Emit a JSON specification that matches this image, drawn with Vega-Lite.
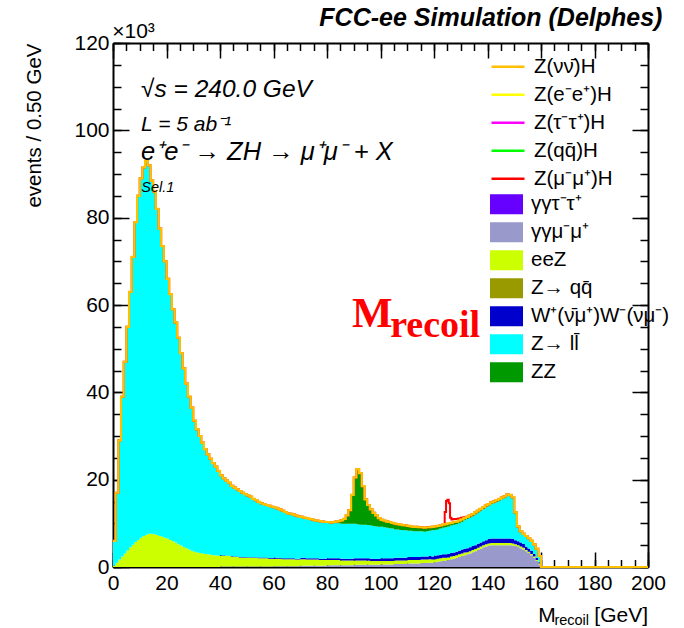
{
 "$schema": "https://vega.github.io/schema/vega-lite/v6.json",
 "width": 535, "height": 524,
 "autosize": {"type": "none"},
 "padding": {"left": 113, "top": 43, "right": 36, "bottom": 61},
 "background": "white",
 "config": {
  "view": {"stroke": null},
  "axis": {"labelFont": "Liberation Sans", "labelFontSize": 21, "labelColor": "#000", "tickColor": "#000", "domainColor": "#000", "grid": false, "zindex": 1, "tickWidth": 1.5, "domainWidth": 2}
 },
 "datasets": {"h": [
{"x":0,"p2":0,"p3":0.3,"p5":0,"p6":5.7,"p7":0,"s":0},
{"x":1,"p2":0,"p3":1.0,"p5":0,"p6":16.0,"p7":0,"s":0},
{"x":2,"p2":0,"p3":1.7,"p5":0,"p6":27.3,"p7":0,"s":0},
{"x":3,"p2":0,"p3":2.4,"p5":0,"p6":36.6,"p7":0,"s":0},
{"x":4,"p2":0,"p3":3.1,"p5":0,"p6":43.9,"p7":0,"s":0},
{"x":5,"p2":0,"p3":3.8,"p5":0,"p6":51.2,"p7":0,"s":0},
{"x":6,"p2":0,"p3":4.5,"p5":0,"p6":58.5,"p7":0,"s":0},
{"x":7,"p2":0,"p3":5.1,"p5":0,"p6":65.9,"p7":0,"s":0},
{"x":8,"p2":0,"p3":5.7,"p5":0,"p6":73.3,"p7":0,"s":0},
{"x":9,"p2":0,"p3":6.2,"p5":0,"p6":78.8,"p7":0,"s":0},
{"x":10,"p2":0,"p3":6.7,"p5":0,"p6":82.3,"p7":0,"s":0},
{"x":11,"p2":0,"p3":7.1,"p5":0,"p6":84.4,"p7":0,"s":0},
{"x":12,"p2":0,"p3":7.4,"p5":0,"p6":85.6,"p7":0,"s":0},
{"x":13,"p2":0,"p3":7.6,"p5":0,"p6":84.4,"p7":0,"s":0},
{"x":14,"p2":0,"p3":7.6,"p5":0,"p6":80.9,"p7":0,"s":0},
{"x":15,"p2":0,"p3":7.5,"p5":0,"p6":78.5,"p7":0,"s":0},
{"x":16,"p2":0,"p3":7.3,"p5":0,"p6":74.7,"p7":0,"s":0},
{"x":17,"p2":0,"p3":7.1,"p5":0,"p6":70.4,"p7":0,"s":0},
{"x":18,"p2":0,"p3":6.9,"p5":0,"p6":66.6,"p7":0,"s":0},
{"x":19,"p2":0,"p3":6.7,"p5":0,"p6":63.3,"p7":0,"s":0},
{"x":20,"p2":0,"p3":6.5,"p5":0,"p6":59.5,"p7":0,"s":0},
{"x":21,"p2":0,"p3":6.2,"p5":0,"p6":56.3,"p7":0,"s":0},
{"x":22,"p2":0,"p3":5.9,"p5":0,"p6":53.1,"p7":0,"s":0},
{"x":23,"p2":0,"p3":5.6,"p5":0,"p6":50.4,"p7":0,"s":0},
{"x":24,"p2":0,"p3":5.2,"p5":0,"p6":47.3,"p7":0,"s":0},
{"x":25,"p2":0,"p3":4.9,"p5":0,"p6":44.1,"p7":0,"s":0},
{"x":26,"p2":0,"p3":4.6,"p5":0,"p6":40.9,"p7":0,"s":0},
{"x":27,"p2":0,"p3":4.3,"p5":0,"p6":37.7,"p7":0,"s":0},
{"x":28,"p2":0,"p3":4.0,"p5":0,"p6":35.0,"p7":0,"s":0},
{"x":29,"p2":0,"p3":3.7,"p5":0,"p6":32.8,"p7":0,"s":0},
{"x":30,"p2":0,"p3":3.5,"p5":0,"p6":30.0,"p7":0,"s":0},
{"x":31,"p2":0,"p3":3.3,"p5":0,"p6":28.2,"p7":0,"s":0},
{"x":32,"p2":0,"p3":3.2,"p5":0,"p6":26.8,"p7":0,"s":0},
{"x":33,"p2":0,"p3":3.1,"p5":0,"p6":25.4,"p7":0,"s":0},
{"x":34,"p2":0,"p3":3.0,"p5":0,"p6":24.0,"p7":0,"s":0},
{"x":35,"p2":0,"p3":2.9,"p5":0,"p6":22.9,"p7":0,"s":0},
{"x":36,"p2":0,"p3":2.8,"p5":0,"p6":22.0,"p7":0,"s":0},
{"x":37,"p2":0,"p3":2.7,"p5":0,"p6":21.1,"p7":0,"s":0},
{"x":38,"p2":0,"p3":2.7,"p5":0,"p6":20.3,"p7":0,"s":0},
{"x":39,"p2":0,"p3":2.6,"p5":0,"p6":19.4,"p7":0,"s":0},
{"x":40,"p2":0.1,"p3":2.5,"p5":0.1,"p6":18.3,"p7":0,"s":0},
{"x":41,"p2":0.1,"p3":2.5,"p5":0.1,"p6":17.6,"p7":0,"s":0},
{"x":42,"p2":0.1,"p3":2.4,"p5":0.1,"p6":17.2,"p7":0,"s":0},
{"x":43,"p2":0.1,"p3":2.4,"p5":0.1,"p6":16.7,"p7":0,"s":0},
{"x":44,"p2":0.1,"p3":2.3,"p5":0.1,"p6":16.1,"p7":0,"s":0},
{"x":45,"p2":0.1,"p3":2.2,"p5":0.1,"p6":15.8,"p7":0,"s":0},
{"x":46,"p2":0.1,"p3":2.2,"p5":0.1,"p6":15.4,"p7":0,"s":0},
{"x":47,"p2":0.1,"p3":2.1,"p5":0.1,"p6":15.1,"p7":0,"s":0},
{"x":48,"p2":0.1,"p3":2.1,"p5":0.1,"p6":14.7,"p7":0,"s":0},
{"x":49,"p2":0.1,"p3":2.1,"p5":0.1,"p6":14.4,"p7":0,"s":0},
{"x":50,"p2":0.1,"p3":2.0,"p5":0.15,"p6":14.15,"p7":0,"s":0},
{"x":51,"p2":0.1,"p3":2.0,"p5":0.15,"p6":13.85,"p7":0,"s":0},
{"x":52,"p2":0.1,"p3":2.0,"p5":0.15,"p6":13.35,"p7":0,"s":0},
{"x":53,"p2":0.1,"p3":2.0,"p5":0.15,"p6":13.05,"p7":0,"s":0},
{"x":54,"p2":0.1,"p3":1.9,"p5":0.15,"p6":12.75,"p7":0,"s":0},
{"x":55,"p2":0.1,"p3":1.9,"p5":0.15,"p6":12.45,"p7":0,"s":0},
{"x":56,"p2":0.1,"p3":1.9,"p5":0.15,"p6":12.25,"p7":0,"s":0},
{"x":57,"p2":0.1,"p3":1.9,"p5":0.15,"p6":12.05,"p7":0,"s":0},
{"x":58,"p2":0.1,"p3":1.8,"p5":0.15,"p6":11.95,"p7":0,"s":0},
{"x":59,"p2":0.1,"p3":1.8,"p5":0.15,"p6":11.75,"p7":0,"s":0},
{"x":60,"p2":0.2,"p3":1.7,"p5":0.2,"p6":11.6,"p7":0,"s":0},
{"x":61,"p2":0.2,"p3":1.7,"p5":0.2,"p6":11.3,"p7":0,"s":0},
{"x":62,"p2":0.2,"p3":1.7,"p5":0.2,"p6":11.1,"p7":0,"s":0},
{"x":63,"p2":0.2,"p3":1.6,"p5":0.2,"p6":10.9,"p7":0,"s":0},
{"x":64,"p2":0.2,"p3":1.6,"p5":0.2,"p6":10.6,"p7":0,"s":0},
{"x":65,"p2":0.2,"p3":1.6,"p5":0.2,"p6":10.3,"p7":0,"s":0},
{"x":66,"p2":0.2,"p3":1.6,"p5":0.2,"p6":10.2,"p7":0,"s":0},
{"x":67,"p2":0.2,"p3":1.6,"p5":0.2,"p6":10.0,"p7":0,"s":0},
{"x":68,"p2":0.2,"p3":1.5,"p5":0.2,"p6":9.9,"p7":0,"s":0},
{"x":69,"p2":0.2,"p3":1.5,"p5":0.2,"p6":9.7,"p7":0,"s":0},
{"x":70,"p2":0.3,"p3":1.5,"p5":0.3,"p6":9.4,"p7":0,"s":0},
{"x":71,"p2":0.3,"p3":1.5,"p5":0.3,"p6":9.2,"p7":0,"s":0},
{"x":72,"p2":0.3,"p3":1.4,"p5":0.3,"p6":9.2,"p7":0,"s":0},
{"x":73,"p2":0.3,"p3":1.4,"p5":0.3,"p6":9.0,"p7":0,"s":0},
{"x":74,"p2":0.3,"p3":1.4,"p5":0.3,"p6":8.9,"p7":0,"s":0},
{"x":75,"p2":0.3,"p3":1.4,"p5":0.3,"p6":8.7,"p7":0,"s":0},
{"x":76,"p2":0.3,"p3":1.4,"p5":0.3,"p6":8.6,"p7":0,"s":0},
{"x":77,"p2":0.3,"p3":1.3,"p5":0.3,"p6":8.6,"p7":0,"s":0},
{"x":78,"p2":0.3,"p3":1.3,"p5":0.3,"p6":8.5,"p7":0,"s":0},
{"x":79,"p2":0.3,"p3":1.3,"p5":0.3,"p6":8.4,"p7":0,"s":0},
{"x":80,"p2":0.4,"p3":1.2,"p5":0.4,"p6":8.1,"p7":0.2,"s":0},
{"x":81,"p2":0.4,"p3":1.2,"p5":0.4,"p6":8.0,"p7":0.2,"s":0},
{"x":82,"p2":0.4,"p3":1.2,"p5":0.4,"p6":8.0,"p7":0.3,"s":0},
{"x":83,"p2":0.4,"p3":1.2,"p5":0.4,"p6":8.0,"p7":0.4,"s":0},
{"x":84,"p2":0.4,"p3":1.2,"p5":0.4,"p6":8.0,"p7":0.5,"s":0},
{"x":85,"p2":0.4,"p3":1.1,"p5":0.4,"p6":8.0,"p7":0.8,"s":0},
{"x":86,"p2":0.4,"p3":1.1,"p5":0.4,"p6":8.0,"p7":1.1,"s":0},
{"x":87,"p2":0.4,"p3":1.1,"p5":0.4,"p6":8.0,"p7":1.9,"s":0},
{"x":88,"p2":0.4,"p3":1.1,"p5":0.4,"p6":8.0,"p7":3.1,"s":0},
{"x":89,"p2":0.4,"p3":1.1,"p5":0.4,"p6":8.0,"p7":6.6,"s":0},
{"x":90,"p2":0.5,"p3":1.0,"p5":0.5,"p6":7.9,"p7":10.6,"s":0},
{"x":91,"p2":0.5,"p3":1.0,"p5":0.5,"p6":7.8,"p7":12.6,"s":0},
{"x":92,"p2":0.5,"p3":1.0,"p5":0.5,"p6":7.7,"p7":11.8,"s":0},
{"x":93,"p2":0.5,"p3":1.0,"p5":0.5,"p6":7.7,"p7":8.8,"s":0},
{"x":94,"p2":0.5,"p3":1.0,"p5":0.5,"p6":7.7,"p7":5.8,"s":0},
{"x":95,"p2":0.5,"p3":1.0,"p5":0.5,"p6":7.6,"p7":4.6,"s":0},
{"x":96,"p2":0.5,"p3":0.9,"p5":0.5,"p6":7.6,"p7":3.7,"s":0},
{"x":97,"p2":0.5,"p3":0.9,"p5":0.5,"p6":7.5,"p7":3.0,"s":0},
{"x":98,"p2":0.5,"p3":0.9,"p5":0.5,"p6":7.4,"p7":2.5,"s":0},
{"x":99,"p2":0.5,"p3":0.9,"p5":0.5,"p6":7.3,"p7":2.0,"s":0},
{"x":100,"p2":0.6,"p3":0.8,"p5":0.6,"p6":7.2,"p7":1.6,"s":0},
{"x":101,"p2":0.6,"p3":0.8,"p5":0.6,"p6":7.1,"p7":1.5,"s":0},
{"x":102,"p2":0.6,"p3":0.8,"p5":0.6,"p6":7.0,"p7":1.4,"s":0},
{"x":103,"p2":0.6,"p3":0.8,"p5":0.6,"p6":6.9,"p7":1.4,"s":0},
{"x":104,"p2":0.6,"p3":0.8,"p5":0.6,"p6":6.8,"p7":1.3,"s":0},
{"x":105,"p2":0.7,"p3":0.8,"p5":0.6,"p6":6.5,"p7":1.3,"s":0},
{"x":106,"p2":0.7,"p3":0.8,"p5":0.6,"p6":6.5,"p7":1.2,"s":0},
{"x":107,"p2":0.7,"p3":0.8,"p5":0.6,"p6":6.4,"p7":1.2,"s":0},
{"x":108,"p2":0.7,"p3":0.8,"p5":0.6,"p6":6.3,"p7":1.2,"s":0},
{"x":109,"p2":0.7,"p3":0.8,"p5":0.6,"p6":6.3,"p7":1.1,"s":0},
{"x":110,"p2":0.8,"p3":0.8,"p5":0.7,"p6":6.0,"p7":1.1,"s":0},
{"x":111,"p2":0.8,"p3":0.8,"p5":0.7,"p6":6.0,"p7":1.0,"s":0},
{"x":112,"p2":0.8,"p3":0.8,"p5":0.7,"p6":5.9,"p7":1.0,"s":0},
{"x":113,"p2":0.8,"p3":0.8,"p5":0.7,"p6":5.9,"p7":1.0,"s":0},
{"x":114,"p2":0.8,"p3":0.8,"p5":0.7,"p6":5.9,"p7":0.9,"s":0},
{"x":115,"p2":0.9,"p3":0.8,"p5":0.7,"p6":5.8,"p7":0.9,"s":0},
{"x":116,"p2":0.9,"p3":0.8,"p5":0.7,"p6":5.7,"p7":0.9,"s":0},
{"x":117,"p2":0.9,"p3":0.8,"p5":0.7,"p6":5.8,"p7":0.9,"s":0},
{"x":118,"p2":1.0,"p3":0.8,"p5":0.7,"p6":5.8,"p7":0.8,"s":0},
{"x":119,"p2":1.0,"p3":0.7,"p5":0.7,"p6":6.0,"p7":0.8,"s":0},
{"x":120,"p2":1.1,"p3":0.7,"p5":0.8,"p6":5.9,"p7":0.8,"s":0},
{"x":121,"p2":1.2,"p3":0.7,"p5":0.8,"p6":5.9,"p7":0.8,"s":0},
{"x":122,"p2":1.3,"p3":0.7,"p5":0.8,"p6":6.0,"p7":0.7,"s":0},
{"x":123,"p2":1.4,"p3":0.7,"p5":0.8,"p6":6.1,"p7":0.7,"s":0},
{"x":124,"p2":1.5,"p3":0.6,"p5":0.8,"p6":6.2,"p7":0.7,"s":2.8},
{"x":124.5,"p2":1.5,"p3":0.6,"p5":0.8,"p6":6.2,"p7":0.7,"s":5.3},
{"x":125,"p2":1.6,"p3":0.6,"p5":0.8,"p6":6.3,"p7":0.7,"s":5.4},
{"x":125.5,"p2":1.6,"p3":0.6,"p5":0.8,"p6":6.3,"p7":0.7,"s":4.6},
{"x":126,"p2":1.8,"p3":0.6,"p5":0.8,"p6":6.3,"p7":0.6,"s":1.2},
{"x":126.5,"p2":1.8,"p3":0.6,"p5":0.8,"p6":6.3,"p7":0.6,"s":0.8},
{"x":127,"p2":1.9,"p3":0.6,"p5":0.8,"p6":6.4,"p7":0.6,"s":0.7},
{"x":128,"p2":2.1,"p3":0.6,"p5":0.8,"p6":6.3,"p7":0.6,"s":0.6},
{"x":129,"p2":2.3,"p3":0.6,"p5":0.8,"p6":6.3,"p7":0.6,"s":0.5},
{"x":130,"p2":2.5,"p3":0.6,"p5":0.9,"p6":6.3,"p7":0.6,"s":0.4},
{"x":131,"p2":2.7,"p3":0.6,"p5":0.9,"p6":6.5,"p7":0.5,"s":0.2},
{"x":132,"p2":2.9,"p3":0.5,"p5":0.9,"p6":6.7,"p7":0.5,"s":0},
{"x":133,"p2":3.1,"p3":0.5,"p5":0.9,"p6":6.8,"p7":0.5,"s":0},
{"x":134,"p2":3.4,"p3":0.5,"p5":0.9,"p6":6.8,"p7":0.5,"s":0},
{"x":135,"p2":3.6,"p3":0.5,"p5":0.9,"p6":7.0,"p7":0.5,"s":0},
{"x":136,"p2":3.9,"p3":0.5,"p5":0.9,"p6":7.1,"p7":0.5,"s":0},
{"x":137,"p2":4.2,"p3":0.5,"p5":0.9,"p6":7.3,"p7":0.4,"s":0},
{"x":138,"p2":4.5,"p3":0.5,"p5":0.9,"p6":7.4,"p7":0.4,"s":0},
{"x":139,"p2":4.7,"p3":0.5,"p5":0.9,"p6":7.6,"p7":0.4,"s":0},
{"x":140,"p2":4.9,"p3":0.5,"p5":1.0,"p6":7.6,"p7":0.4,"s":0},
{"x":141,"p2":5.0,"p3":0.5,"p5":1.0,"p6":7.9,"p7":0.4,"s":0},
{"x":142,"p2":5.0,"p3":0.5,"p5":1.0,"p6":8.1,"p7":0.4,"s":0},
{"x":143,"p2":5.0,"p3":0.5,"p5":1.0,"p6":8.4,"p7":0.4,"s":0},
{"x":144,"p2":5.0,"p3":0.5,"p5":1.0,"p6":8.7,"p7":0.4,"s":0},
{"x":145,"p2":5.0,"p3":0.5,"p5":1.0,"p6":9.0,"p7":0.4,"s":0},
{"x":146,"p2":5.0,"p3":0.5,"p5":1.0,"p6":9.4,"p7":0.3,"s":0},
{"x":147,"p2":5.0,"p3":0.5,"p5":1.0,"p6":9.8,"p7":0.3,"s":0},
{"x":148,"p2":5.0,"p3":0.5,"p5":1.0,"p6":9.7,"p7":0.3,"s":0},
{"x":149,"p2":4.9,"p3":0.5,"p5":1.0,"p6":9.3,"p7":0.3,"s":0},
{"x":150,"p2":4.8,"p3":0.4,"p5":0.95,"p6":6.15,"p7":0.2,"s":0},
{"x":151,"p2":4.6,"p3":0.4,"p5":0.9,"p6":3.2,"p7":0.2,"s":0},
{"x":152,"p2":4.3,"p3":0.4,"p5":0.9,"p6":2.4,"p7":0.2,"s":0},
{"x":153,"p2":4.0,"p3":0.4,"p5":0.85,"p6":2.25,"p7":0.1,"s":0},
{"x":154,"p2":3.6,"p3":0.3,"p5":0.8,"p6":2.3,"p7":0.1,"s":0},
{"x":155,"p2":3.2,"p3":0.3,"p5":0.75,"p6":2.25,"p7":0.1,"s":0},
{"x":156,"p2":2.7,"p3":0.3,"p5":0.7,"p6":2.2,"p7":0.1,"s":0},
{"x":157,"p2":2.1,"p3":0.3,"p5":0.6,"p6":2.1,"p7":0.1,"s":0},
{"x":158,"p2":1.4,"p3":0.2,"p5":0.5,"p6":2.1,"p7":0,"s":0},
{"x":159,"p2":0.6,"p3":0.2,"p5":0.3,"p6":1.4,"p7":0,"s":0},
{"x":160,"p2":0,"p3":0,"p5":0,"p6":0,"p7":0,"s":0},
{"x":200,"p2":0,"p3":0,"p5":0,"p6":0,"p7":0,"s":0}
 ]},
 "resolve": {"axis": {"x": "independent", "y": "independent"}},
 "layer": [
  {
   "data": {"name": "h"},
   "transform": [
    {"fold": ["p2","p3","p5","p6","p7","s"], "as": ["k","n"]},
    {"stack": "n", "groupby": ["x"], "sort": [{"field": "k", "order": "ascending"}], "as": ["y0","y1"]},
    {"filter": "datum.k != 's'"}
   ],
   "mark": {"type": "area", "interpolate": "step-after"},
   "encoding": {
    "x": {"field": "x", "type": "quantitative", "scale": {"domain": [0,200], "nice": false},
          "axis": {"orient": "bottom", "values": [0,20,40,60,80,100,120,140,160,180,200], "ticks": false, "domain": false, "labelPadding": 5, "labelFlush": false, "labelOverlap": false, "title": null}},
    "y": {"field": "y1", "type": "quantitative", "scale": {"domain": [0,120], "nice": false},
          "axis": {"orient": "left", "values": [0,20,40,60,80,100,120], "ticks": false, "domain": false, "labelPadding": 4, "labelFlush": false, "labelOverlap": false,
                   "title": "events / 0.50 GeV", "titleAnchor": "end", "titleFont": "Liberation Sans", "titleFontSize": 20.5, "titleFontWeight": "normal", "titleColor": "#000", "titlePadding": 29}},
    "y2": {"field": "y0"},
    "fill": {"field": "k", "type": "nominal",
             "scale": {"domain": ["p1","p2","p3","p4","p5","p6","p7"], "range": ["#6600ff","#9999cc","#ccff00","#999900","#0000cc","#00ffff","#009900"]},
             "legend": {"orient": "none", "legendX": 377, "legendY": 147.5, "direction": "vertical", "title": null, "padding": 0,
                        "symbolType": "M-1,-0.6H1V0.6H-1Z", "symbolSize": 1089, "symbolStrokeWidth": 0, "symbolOpacity": 1,
                        "labelFont": "Liberation Sans", "labelFontSize": 20.5, "labelColor": "#000", "labelOffset": 8, "labelLimit": 300,
                        "clipHeight": 27.5, "rowPadding": 0,
                        "labelExpr": "{'p1':'\u03b3\u03b3\u03c4\u207b\u03c4\u207a','p2':'\u03b3\u03b3\u03bc\u207b\u03bc\u207a','p3':'eeZ','p4':'Z\u2192 qq\u0304','p5':'W\u207a(\u03bd\u0304\u03bc\u207a)W\u207b(\u03bd\u03bc\u207b)','p6':'Z\u2192 ll\u0304','p7':'ZZ'}[datum.label]"}}
   }
  },
  {
   "data": {"name": "h"},
   "transform": [
    {"fold": ["p2","p3","p5","p6","p7","s"], "as": ["k","n"]},
    {"stack": "n", "groupby": ["x"], "sort": [{"field": "k", "order": "ascending"}], "as": ["y0","y1"]},
    {"filter": "datum.k == 's'"}
   ],
   "mark": {"type": "line", "interpolate": "step-after", "strokeWidth": 2},
   "encoding": {
    "x": {"field": "x", "type": "quantitative", "scale": {"domain": [0,200], "nice": false},
          "axis": {"orient": "bottom", "values": [0,20,40,60,80,100,120,140,160,180,200], "tickSize": -15, "labels": false, "domain": true, "title": null}},
    "y": {"field": "y1", "type": "quantitative", "scale": {"domain": [0,120], "nice": false},
          "axis": {"orient": "left", "values": [0,20,40,60,80,100,120], "tickSize": -16, "labels": false, "domain": true, "title": null}},
    "stroke": {"datum": "Z(\u03bc\u207b\u03bc\u207a)H",
               "scale": {"domain": ["Z(\u03bd\u03bd\u0304)H","Z(e\u207be\u207a)H","Z(\u03c4\u207b\u03c4\u207a)H","Z(qq\u0304)H","Z(\u03bc\u207b\u03bc\u207a)H"], "range": ["#ffc000","#ffff00","#ff00ff","#00ff00","#ff0000"]},
               "legend": {"orient": "none", "legendX": 377, "legendY": 10, "direction": "vertical", "title": null, "padding": 0,
                          "symbolType": "stroke", "symbolSize": 1089, "symbolStrokeWidth": 2.5,
                          "labelFont": "Liberation Sans", "labelFontSize": 20.5, "labelColor": "#000", "labelOffset": 8, "labelLimit": 300,
                          "clipHeight": 27.5, "rowPadding": 0}}
   }
  },
  {
   "data": {"name": "h"},
   "transform": [
    {"fold": ["p2","p3","p5","p6","p7","s"], "as": ["k","n"]},
    {"stack": "n", "groupby": ["x"], "sort": [{"field": "k", "order": "ascending"}], "as": ["y0","y1"]},
    {"filter": "datum.k == 'p7'"}
   ],
   "mark": {"type": "line", "interpolate": "step-after", "strokeWidth": 2.2},
   "encoding": {
    "x": {"field": "x", "type": "quantitative", "scale": {"domain": [0,200], "nice": false},
          "axis": {"orient": "bottom", "values": [0,5,10,15,20,25,30,35,40,45,50,55,60,65,70,75,80,85,90,95,100,105,110,115,120,125,130,135,140,145,150,155,160,165,170,175,180,185,190,195,200], "tickSize": -7.5, "labels": false, "domain": false, "title": null}},
    "y": {"field": "y1", "type": "quantitative", "scale": {"domain": [0,120], "nice": false},
          "axis": {"orient": "left", "values": [0,5,10,15,20,25,30,35,40,45,50,55,60,65,70,75,80,85,90,95,100,105,110,115,120], "tickSize": -8, "labels": false, "domain": false, "title": null}},
    "stroke": {"datum": "Z(\u03bd\u03bd\u0304)H",
               "scale": {"domain": ["Z(\u03bd\u03bd\u0304)H","Z(e\u207be\u207a)H","Z(\u03c4\u207b\u03c4\u207a)H","Z(qq\u0304)H","Z(\u03bc\u207b\u03bc\u207a)H"], "range": ["#ffc000","#ffff00","#ff00ff","#00ff00","#ff0000"]}}
   }
  },
  {
   "data": {"values": [{}]},
   "mark": {"type": "text", "text": "FCC-ee Simulation (Delphes)", "font": "Liberation Sans", "fontSize": 25, "fontWeight": "bold", "fontStyle": "italic", "align": "right", "baseline": "alphabetic", "color": "#000"},
   "encoding": {
    "x": {"datum": 205.4, "type": "quantitative", "scale": {"domain": [0,200], "nice": false},
          "axis": {"orient": "top", "values": [0,20,40,60,80,100,120,140,160,180,200], "tickSize": -15, "labels": false, "domain": true, "title": null}},
    "y": {"datum": 123.9, "type": "quantitative", "scale": {"domain": [0,120], "nice": false},
          "axis": {"orient": "right", "values": [0,20,40,60,80,100,120], "tickSize": -16, "labels": false, "domain": true, "title": null}}
   }
  },
  {
   "data": {"values": [{}]},
   "mark": {"type": "text", "text": "\u00d710\u00b3", "font": "Liberation Sans", "fontSize": 21, "align": "left", "baseline": "alphabetic", "color": "#000"},
   "encoding": {
    "x": {"datum": -0.3, "type": "quantitative", "scale": {"domain": [0,200], "nice": false},
          "axis": {"orient": "top", "values": [0,5,10,15,20,25,30,35,40,45,50,55,60,65,70,75,80,85,90,95,100,105,110,115,120,125,130,135,140,145,150,155,160,165,170,175,180,185,190,195,200], "tickSize": -7.5, "labels": false, "domain": false, "title": null}},
    "y": {"datum": 121.2, "type": "quantitative", "scale": {"domain": [0,120], "nice": false},
          "axis": {"orient": "right", "values": [0,5,10,15,20,25,30,35,40,45,50,55,60,65,70,75,80,85,90,95,100,105,110,115,120], "tickSize": -8, "labels": false, "domain": false, "title": null}}
   }
  },
  {
   "data": {"values": [{}]},
   "mark": {"type": "text", "text": "\u221as = 240.0 GeV", "font": "Liberation Sans", "fontSize": 24.5, "fontStyle": "italic", "align": "left", "baseline": "alphabetic", "color": "#000"},
   "encoding": {"x": {"datum": 10.5, "type": "quantitative", "scale": {"domain": [0,200], "nice": false}, "axis": null},
                "y": {"datum": 107.6, "type": "quantitative", "scale": {"domain": [0,120], "nice": false}, "axis": null}}
  },
  {
   "data": {"values": [{}]},
   "mark": {"type": "text", "text": "L = 5 ab\u207b\u00b9", "font": "Liberation Sans", "fontSize": 21, "fontStyle": "italic", "align": "left", "baseline": "alphabetic", "color": "#000"},
   "encoding": {"x": {"datum": 10.5, "type": "quantitative", "scale": {"domain": [0,200], "nice": false}, "axis": null},
                "y": {"datum": 99.9, "type": "quantitative", "scale": {"domain": [0,120], "nice": false}, "axis": null}}
  },
  {
   "data": {"values": [{}]},
   "mark": {"type": "text", "text": "e\u207ae\u207b \u2192 ZH \u2192 \u03bc\u207a\u03bc\u207b + X", "font": "Liberation Sans", "fontSize": 25.5, "fontStyle": "italic", "align": "left", "baseline": "alphabetic", "color": "#000"},
   "encoding": {"x": {"datum": 10.5, "type": "quantitative", "scale": {"domain": [0,200], "nice": false}, "axis": null},
                "y": {"datum": 93.1, "type": "quantitative", "scale": {"domain": [0,120], "nice": false}, "axis": null}}
  },
  {
   "data": {"values": [{}]},
   "mark": {"type": "text", "text": "Sel.1", "font": "Liberation Sans", "fontSize": 14.5, "fontStyle": "italic", "align": "left", "baseline": "alphabetic", "color": "#000"},
   "encoding": {"x": {"datum": 10.55, "type": "quantitative", "scale": {"domain": [0,200], "nice": false}, "axis": null},
                "y": {"datum": 85.8, "type": "quantitative", "scale": {"domain": [0,120], "nice": false}, "axis": null}}
  },
  {
   "data": {"values": [{}]},
   "mark": {"type": "text", "text": "M", "font": "Liberation Serif", "fontSize": 43, "fontWeight": "bold", "align": "left", "baseline": "alphabetic", "color": "#ff0000"},
   "encoding": {"x": {"datum": 89.3, "type": "quantitative", "scale": {"domain": [0,200], "nice": false}, "axis": null},
                "y": {"datum": 54.9, "type": "quantitative", "scale": {"domain": [0,120], "nice": false}, "axis": null}}
  },
  {
   "data": {"values": [{}]},
   "mark": {"type": "text", "text": "recoil", "font": "Liberation Serif", "fontSize": 38, "fontWeight": "bold", "align": "left", "baseline": "alphabetic", "color": "#ff0000"},
   "encoding": {"x": {"datum": 103.6, "type": "quantitative", "scale": {"domain": [0,200], "nice": false}, "axis": null},
                "y": {"datum": 52.6, "type": "quantitative", "scale": {"domain": [0,120], "nice": false}, "axis": null}}
  },
  {
   "data": {"values": [{}]},
   "mark": {"type": "text", "text": "M", "font": "Liberation Sans", "fontSize": 21, "align": "left", "baseline": "alphabetic", "color": "#000"},
   "encoding": {"x": {"datum": 159.0, "type": "quantitative", "scale": {"domain": [0,200], "nice": false}, "axis": null},
                "y": {"datum": -12.6, "type": "quantitative", "scale": {"domain": [0,120], "nice": false}, "axis": null}}
  },
  {
   "data": {"values": [{}]},
   "mark": {"type": "text", "text": "recoil", "font": "Liberation Sans", "fontSize": 14.5, "align": "left", "baseline": "alphabetic", "color": "#000"},
   "encoding": {"x": {"datum": 165.0, "type": "quantitative", "scale": {"domain": [0,200], "nice": false}, "axis": null},
                "y": {"datum": -13.3, "type": "quantitative", "scale": {"domain": [0,120], "nice": false}, "axis": null}}
  },
  {
   "data": {"values": [{}]},
   "mark": {"type": "text", "text": "[GeV]", "font": "Liberation Sans", "fontSize": 21, "align": "right", "baseline": "alphabetic", "color": "#000"},
   "encoding": {"x": {"datum": 200, "type": "quantitative", "scale": {"domain": [0,200], "nice": false}, "axis": null},
                "y": {"datum": -12.6, "type": "quantitative", "scale": {"domain": [0,120], "nice": false}, "axis": null}}
  }
 ]
}
